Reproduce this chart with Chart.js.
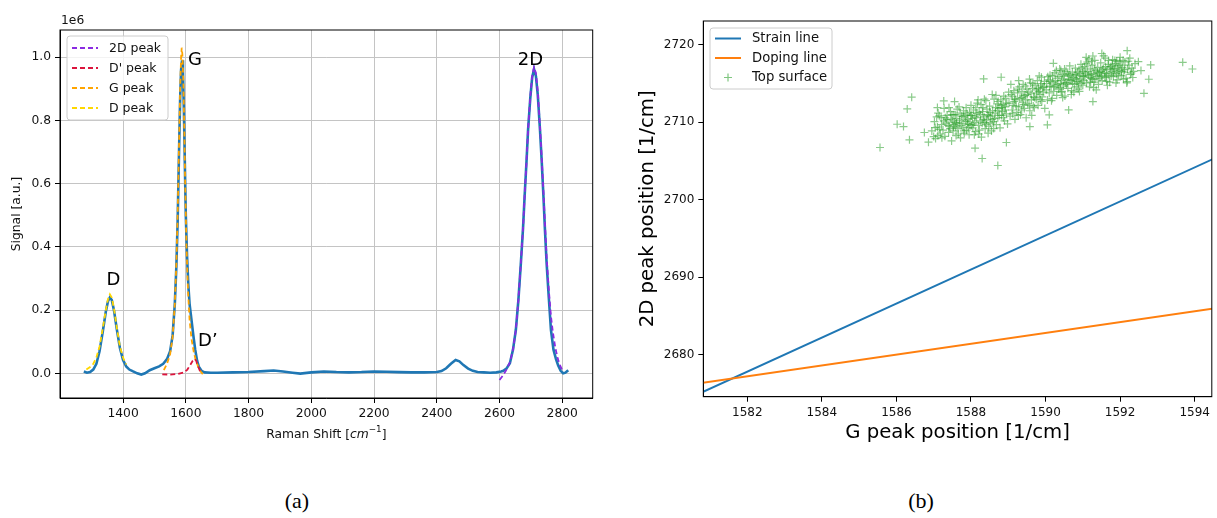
<!DOCTYPE html>
<html><head><meta charset="utf-8">
<script src="https://cdn.jsdelivr.net/npm/chart.js@4.4.1/dist/chart.umd.min.js"></script>
<style>
html,body{margin:0;padding:0;background:#fff;width:1217px;height:518px;overflow:hidden;position:relative}
canvas{position:absolute;top:0}
#ca{left:0}
#cb{left:610px}
.cap{position:absolute;top:488px;width:60px;text-align:center;font-family:"Liberation Serif",serif;font-size:22px;color:#000}
</style></head>
<body>
<canvas id="ca" width="600" height="460"></canvas>
<canvas id="cb" width="607" height="460"></canvas>
<div class="cap" style="left:267px">(a)</div>
<div class="cap" style="left:891px">(b)</div>
<script>
// ---------------- (a) Raman spectrum ----------------
const ramanX = [1275,1285,1295,1305,1315,1325,1335,1345,1352,1358,1364,1371,1380,1390,1400,1410,1420,1432,1445,1458,1470,1485,1500,1515,1528,1540,1550,1558,1565,1570,1574,1578,1582,1585,1588,1591,1594,1597,1600,1604,1608,1612,1618,1624,1630,1636,1642,1650,1660,1680,1700,1750,1800,1850,1880,1910,1940,1965,2000,2040,2080,2120,2160,2200,2240,2280,2320,2360,2400,2415,2430,2445,2460,2472,2485,2500,2515,2530,2550,2570,2590,2605,2612,2622,2633,2643,2652,2660,2668,2675,2680,2686,2691,2698,2704,2710,2716,2722,2729,2734,2740,2745,2750,2757,2764,2772,2780,2787,2795,2803,2810,2819];
const signal = [0.006,0.002,0.004,0.012,0.03,0.07,0.13,0.195,0.228,0.24,0.232,0.2,0.14,0.08,0.042,0.022,0.012,0.006,0.0,-0.004,0.0,0.01,0.016,0.022,0.03,0.045,0.07,0.12,0.22,0.34,0.48,0.68,0.87,0.96,0.99,0.95,0.83,0.66,0.5,0.37,0.28,0.22,0.17,0.12,0.075,0.04,0.02,0.008,0.003,0.002,0.002,0.003,0.004,0.007,0.009,0.006,0.002,-0.001,0.003,0.006,0.004,0.003,0.004,0.006,0.005,0.004,0.003,0.003,0.004,0.007,0.016,0.03,0.042,0.038,0.026,0.015,0.008,0.004,0.003,0.002,0.003,0.006,0.008,0.015,0.032,0.075,0.137,0.23,0.348,0.46,0.56,0.67,0.77,0.87,0.935,0.962,0.94,0.88,0.77,0.68,0.56,0.45,0.35,0.24,0.137,0.075,0.045,0.025,0.008,0.0,0.002,0.01];

const fit2DX = [2600,2610,2620,2633,2643,2652,2660,2668,2675,2680,2686,2691,2698,2704,2710,2716,2722,2729,2734,2740,2745,2750,2757,2764,2770,2778,2786,2793,2800];
const fit2DY = [-0.021,-0.008,0.008,0.035,0.075,0.137,0.23,0.35,0.46,0.56,0.67,0.77,0.875,0.94,0.968,0.95,0.89,0.78,0.69,0.575,0.47,0.37,0.265,0.18,0.13,0.08,0.045,0.025,0.01];
const fitDpX = [1525,1550,1575,1595,1605,1615,1622,1628,1633,1638,1645,1650];
const fitDpY = [-0.003,-0.004,-0.002,0.003,0.012,0.028,0.04,0.046,0.04,0.025,0.008,0.0];
const fitGX = [1530,1540,1550,1558,1565,1570,1574,1578,1582,1585,1587,1589,1592,1595,1598,1602,1607,1612,1618,1625,1632,1640,1648,1656];
const fitGY = [0.01,0.03,0.06,0.115,0.22,0.35,0.5,0.7,0.9,1.0,1.03,1.01,0.93,0.78,0.6,0.41,0.26,0.17,0.11,0.07,0.04,0.02,0.005,-0.005];
const fitDX = [1283,1295,1305,1315,1325,1335,1345,1352,1358,1364,1371,1380,1390,1400,1410];
const fitDY = [0.012,0.02,0.03,0.05,0.085,0.14,0.2,0.235,0.25,0.24,0.205,0.145,0.085,0.05,0.028];

const xTicksA = [1400,1600,1800,2000,2200,2400,2600,2800];
const yTicksA = [0.0,0.2,0.4,0.6,0.8,1.0];
const peakNames = ['D','G','D\u2019','2D'];
const peakLabelX = [1347,1607,1639,2658];
const peakLabelY = [0.279,0.976,0.087,0.976];

// ---------------- (b) correlation plot ----------------
const strainX = [1580,1596];
const strainY = [2673.38,2708.58];
const dopingX = [1580,1596];
const dopingY = [2675.78,2686.98];
const xTicksB = [1582,1584,1586,1588,1590,1592,1594];
const yTicksB = [2680,2690,2700,2710,2720];
const topSurface = [
[1585.56,2706.75],[1586.02,2709.76],[1586.19,2709.46],[1586.29,2711.74],[1586.41,2713.25],[1586.35,2707.74],[1586.75,2708.69],[1586.86,2707.44],[1587.04,2709.33],[1587.10,2711.91],[1587.15,2710.84],[1587.27,2712.77],[1587.56,2712.69],[1587.54,2710.97],[1587.00,2708.17],[1588.11,2706.67],[1588.30,2705.33],[1588.72,2704.43],[1588.95,2707.40],[1588.34,2715.61],[1588.81,2715.83],[1589.28,2715.40],[1589.89,2715.83],[1590.21,2717.63],[1591.09,2718.41],[1591.27,2718.58],[1592.19,2719.27],[1592.49,2717.85],[1592.82,2717.42],[1592.56,2716.69],[1592.77,2715.57],[1592.64,2713.76],[1593.68,2717.76],[1593.94,2716.90],[1592.19,2715.27],[1591.27,2712.69],[1590.62,2711.61],[1590.10,2710.97],[1590.05,2709.68],[1589.58,2709.46],
[1586.95,2708.9],[1587.02,2710.1],[1587.05,2707.9],[1587.10,2709.4],[1587.12,2711.2],[1587.18,2708.5],[1587.20,2710.6],[1587.25,2709.0],[1587.28,2711.8],[1587.30,2708.2],[1587.33,2709.9],[1587.36,2710.9],[1587.40,2708.7],[1587.42,2709.5],[1587.45,2711.4],[1587.48,2707.6],[1587.50,2710.2],[1587.52,2708.9],[1587.55,2709.7],[1587.58,2711.0],[1587.60,2708.3],[1587.62,2710.5],[1587.65,2709.2],[1587.68,2712.0],[1587.70,2709.9],[1587.72,2708.0],[1587.75,2710.8],[1587.78,2709.4],[1587.80,2711.5],[1587.82,2708.6],[1587.85,2710.1],[1587.88,2709.0],[1587.90,2711.1],[1587.92,2710.4],[1587.95,2708.4],[1587.97,2709.7],[1588.00,2712.2],[1588.02,2710.9],[1588.05,2709.3],[1588.07,2711.6],[1588.10,2710.0],[1588.12,2708.8],[1588.15,2710.6],[1588.17,2712.5],[1588.20,2709.6],[1588.22,2711.3],[1588.25,2710.2],[1588.28,2708.1],[1588.30,2709.9],[1588.32,2711.9],[1588.35,2710.7],[1588.38,2709.2],[1588.40,2712.8],[1588.42,2710.3],[1588.45,2711.0],[1588.48,2709.5],[1588.50,2712.1],[1588.52,2710.8],[1588.55,2708.9],[1588.58,2711.5],[1588.60,2710.1],[1588.62,2713.0],[1588.65,2711.2],[1588.68,2709.7],[1588.70,2712.4],[1588.72,2710.6],[1588.75,2711.8],[1588.78,2709.3],[1588.80,2712.9],[1588.82,2710.9],[1588.85,2711.4],[1588.88,2713.4],[1588.90,2710.2],[1588.92,2712.0],[1588.95,2711.1],[1588.98,2709.8],
[1587.08,2710.7],[1587.15,2709.1],[1587.22,2708.0],[1587.35,2710.4],[1587.44,2709.2],[1587.57,2710.0],[1587.63,2711.7],[1587.74,2709.6],[1587.84,2710.9],[1587.93,2709.3],[1588.04,2710.5],[1588.13,2711.9],[1588.23,2709.0],[1588.33,2710.4],[1588.43,2711.7],[1588.53,2709.9],[1588.63,2710.5],[1588.73,2712.7],[1588.83,2711.9],[1588.93,2713.1],[1587.66,2708.5],[1587.87,2711.9],[1588.09,2708.4],[1588.27,2712.3],[1588.46,2708.6],[1588.67,2713.5],[1588.87,2710.6],[1587.46,2710.4],[1587.96,2711.3],[1588.36,2713.0],
[1587.21,2709.7],[1587.31,2710.6],[1587.39,2709.6],[1587.49,2711.0],[1587.59,2709.4],[1587.69,2710.3],[1587.79,2710.7],[1587.89,2710.2],[1587.99,2710.9],[1588.06,2709.8],[1588.16,2711.2],[1588.26,2711.0],[1588.37,2710.0],[1588.47,2710.9],[1588.57,2710.4],[1588.66,2711.9],[1588.76,2710.9],[1588.86,2712.3],[1588.96,2712.5],[1587.27,2710.2],[1587.53,2709.4],[1587.71,2711.2],[1587.91,2709.8],[1588.11,2710.7],[1588.31,2711.4],[1588.51,2711.3],[1588.71,2711.5],[1588.91,2711.6],[1587.61,2709.9],[1588.01,2709.6],[1588.41,2709.7],[1588.81,2712.2],[1587.81,2708.9],[1588.21,2708.5],[1588.61,2709.2],[1587.41,2711.9],[1588.19,2712.9],[1588.57,2713.6],[1589.01,2713.9],[1587.11,2708.3],
[1589.02,2712.5],[1589.05,2710.8],[1589.08,2713.6],[1589.10,2711.6],[1589.13,2712.2],[1589.15,2714.1],[1589.18,2710.4],[1589.20,2712.9],[1589.23,2711.3],[1589.25,2713.8],[1589.28,2712.0],[1589.30,2714.6],[1589.33,2711.0],[1589.35,2713.2],[1589.38,2712.6],[1589.40,2714.9],[1589.43,2711.8],[1589.45,2713.5],[1589.48,2710.6],[1589.50,2714.3],[1589.52,2712.4],[1589.55,2713.9],[1589.58,2711.5],[1589.60,2715.1],[1589.62,2712.9],[1589.65,2714.4],[1589.68,2713.3],[1589.70,2711.9],[1589.72,2714.8],[1589.75,2713.0],[1589.78,2715.4],[1589.80,2712.2],[1589.82,2714.0],[1589.85,2713.6],[1589.88,2715.0],[1589.90,2712.7],[1589.92,2714.5],[1589.95,2713.9],[1589.98,2711.8],[1589.07,2714.9],[1589.17,2713.0],[1589.27,2710.9],[1589.37,2714.0],[1589.47,2712.9],[1589.57,2715.6],[1589.67,2712.1],[1589.77,2713.8],[1589.87,2714.7],[1589.97,2715.3],[1589.12,2711.1],[1589.42,2713.4],[1589.63,2710.9],[1589.83,2716.0],
[1589.11,2713.4],[1589.21,2712.1],[1589.31,2713.1],[1589.41,2712.3],[1589.51,2713.6],[1589.61,2713.7],[1589.71,2713.2],[1589.81,2714.4],[1589.91,2713.3],[1589.16,2712.7],[1589.36,2711.6],[1589.56,2712.2],[1589.76,2714.2],[1589.96,2714.6],[1589.26,2714.3],[1589.46,2714.7],[1589.66,2715.0],[1589.86,2712.9],
[1590.02,2714.2],[1590.05,2712.9],[1590.08,2715.5],[1590.10,2713.8],[1590.12,2716.1],[1590.15,2714.6],[1590.18,2713.1],[1590.20,2715.2],[1590.22,2714.0],[1590.25,2716.4],[1590.28,2714.8],[1590.30,2713.5],[1590.32,2715.7],[1590.35,2714.3],[1590.38,2716.9],[1590.40,2715.0],[1590.42,2713.9],[1590.45,2716.2],[1590.48,2714.7],[1590.50,2715.6],[1590.52,2713.4],[1590.55,2716.6],[1590.58,2715.1],[1590.60,2714.4],[1590.62,2716.0],[1590.65,2717.3],[1590.68,2715.4],[1590.70,2714.1],[1590.72,2716.5],[1590.75,2715.8],[1590.78,2714.9],[1590.80,2717.0],[1590.82,2716.2],[1590.85,2715.3],[1590.88,2714.3],[1590.90,2716.8],[1590.92,2715.6],[1590.95,2717.5],[1590.98,2716.0],[1591.00,2714.8],[1591.02,2715.9],[1591.05,2717.2],[1591.08,2716.4],[1591.10,2715.1],[1591.12,2717.8],[1591.15,2716.1],[1591.18,2714.6],[1591.20,2716.9],[1591.22,2715.7],[1591.25,2717.4],[1591.28,2716.3],[1591.30,2715.2],[1591.32,2718.0],[1591.35,2716.7],[1591.38,2715.9],[1591.40,2717.1],[1591.42,2714.9],[1591.45,2716.5],[1591.48,2717.7],[1591.50,2716.0],[1591.52,2715.4],[1591.55,2717.0],[1591.58,2716.4],[1591.60,2718.3],[1591.62,2715.8],[1591.65,2716.8],[1591.68,2717.5],[1591.70,2716.1],[1591.72,2715.2],[1591.75,2717.2],[1591.78,2716.6],[1591.80,2718.1],[1591.82,2715.9],[1591.85,2716.9],[1591.88,2717.6],[1591.90,2716.3],[1591.92,2715.5],[1591.95,2717.3],[1591.98,2716.7],[1592.00,2718.4],[1592.03,2716.0],[1592.06,2717.1],[1592.10,2716.5],[1592.13,2717.8],[1592.16,2715.7],[1592.20,2716.9],[1592.24,2717.4],[1592.28,2716.2],[1592.32,2717.0],[1592.36,2716.6],[1592.40,2717.6],
[1590.06,2715.9],[1590.16,2712.8],[1590.26,2715.4],[1590.36,2715.9],[1590.46,2713.2],[1590.56,2714.9],[1590.66,2716.2],[1590.76,2713.9],[1590.86,2716.5],[1590.96,2715.0],[1591.06,2716.0],[1591.16,2718.2],[1591.26,2715.6],[1591.36,2714.2],[1591.46,2715.7],[1591.56,2718.6],[1591.66,2714.8],[1591.76,2716.0],[1591.86,2718.0],[1591.96,2716.1],[1590.41,2716.7],[1590.71,2715.5],[1591.01,2716.6],[1591.31,2716.9],[1591.61,2717.2],[1591.91,2717.9],[1590.11,2714.7],[1590.51,2716.9],[1590.91,2714.0],[1591.21,2715.2],[1591.51,2718.9],[1591.81,2717.0],[1592.08,2718.0],[1592.18,2715.1],[1592.34,2715.8],
[1590.03,2715.0],[1590.13,2715.3],[1590.23,2714.6],[1590.33,2714.9],[1590.43,2715.4],[1590.53,2715.1],[1590.63,2715.6],[1590.73,2715.0],[1590.83,2715.7],[1590.93,2716.3],[1591.03,2715.4],[1591.13,2716.6],[1591.23,2716.2],[1591.33,2715.6],[1591.43,2716.1],[1591.53,2716.8],[1591.63,2716.3],[1591.73,2716.9],[1591.83,2716.4],[1591.93,2716.9],[1592.02,2717.4],[1592.12,2716.8],[1592.22,2717.9],[1592.30,2716.4],[1590.19,2716.0],[1590.39,2714.5],[1590.59,2716.3],[1590.79,2716.0],[1590.99,2717.0],[1591.19,2715.8],[1591.39,2716.4],[1591.59,2715.9],[1591.79,2717.4],[1591.99,2717.9],[1590.29,2716.7],[1590.49,2716.0],[1590.69,2713.6],[1590.89,2715.2],[1591.09,2717.6],[1591.29,2714.5],[1591.49,2716.6],[1591.69,2718.0],[1591.89,2715.1],[1592.09,2715.6],[1592.26,2718.3],[1590.44,2714.0],[1590.84,2714.6],[1591.24,2717.9],[1591.64,2715.3],[1592.04,2716.6]
];

// ---------------- helpers ----------------
const FONT = '"DejaVu Sans", sans-serif';
Chart.defaults.font.family = FONT;
Chart.defaults.color = '#111';
const pts = (xs, ys) => xs.map((x, i) => ({x: x, y: ys[i]}));

function drawLegend(ctx, box, items, fontPx) {
  ctx.save();
  ctx.beginPath();
  if (ctx.roundRect) ctx.roundRect(box.x, box.y, box.w, box.h, 3); else ctx.rect(box.x, box.y, box.w, box.h);
  ctx.fillStyle = 'rgba(255,255,255,0.8)';
  ctx.fill();
  ctx.strokeStyle = '#cccccc';
  ctx.lineWidth = 1;
  ctx.stroke();
  ctx.font = fontPx + 'px ' + FONT;
  ctx.textBaseline = 'middle';
  ctx.textAlign = 'left';
  items.forEach((it, i) => {
    const yy = box.row0 + i * box.rowH;
    ctx.strokeStyle = it.color;
    if (it.kind === 'plus') {
      const cx = (box.l0 + box.l1) / 2;
      ctx.lineWidth = 1.2;
      ctx.beginPath();
      ctx.moveTo(cx - 4, yy); ctx.lineTo(cx + 4, yy);
      ctx.moveTo(cx, yy - 4); ctx.lineTo(cx, yy + 4);
      ctx.stroke();
    } else {
      ctx.lineWidth = it.width;
      ctx.setLineDash(it.kind === 'dash' ? [5, 3] : []);
      ctx.beginPath();
      ctx.moveTo(box.l0, yy); ctx.lineTo(box.l1, yy);
      ctx.stroke();
      ctx.setLineDash([]);
    }
    ctx.fillStyle = '#111';
    ctx.fillText(it.label, box.tx, yy + 0.5);
  });
  ctx.restore();
}

function spines(ctx, a) {
  ctx.save();
  ctx.strokeStyle = '#000';
  ctx.lineWidth = 1;
  ctx.strokeRect(a.left, a.top, a.right - a.left, a.bottom - a.top);
  ctx.restore();
}

const fitColors = {'2D': '#8a2be2', 'Dp': '#dc143c', 'G': '#ffa500', 'D': '#ffd700'};

// ---------------- chart (a) ----------------
const decoA = {
  id: 'decoA',
  afterDraw(chart) {
    const ctx = chart.ctx, a = chart.chartArea, sx = chart.scales.x, sy = chart.scales.y;
    spines(ctx, a);
    ctx.save();
    ctx.fillStyle = '#000';
    ctx.font = '18px ' + FONT;
    ctx.textBaseline = 'alphabetic';
    ctx.textAlign = 'left';
    peakNames.forEach((t, i) => ctx.fillText(t, sx.getPixelForValue(peakLabelX[i]), sy.getPixelForValue(peakLabelY[i])));
    ctx.fillStyle = '#111';
    ctx.font = '12.3px ' + FONT;
    ctx.textBaseline = 'middle';
    ctx.fillText('1e6', 61, 21);
    ctx.save();
    ctx.translate(17, (a.top + a.bottom) / 2);
    ctx.rotate(-Math.PI / 2);
    ctx.textAlign = 'center';
    ctx.fillText('Signal [a.u.]', 0, 0);
    ctx.restore();
    const parts = [
      ['Raman Shift [', '12.3px ' + FONT, 0],
      ['cm', 'italic 12.3px ' + FONT, 0],
      ['\u22121', '8.8px ' + FONT, -5],
      [']', '12.3px ' + FONT, 0]
    ];
    let w = 0;
    parts.forEach(p => { ctx.font = p[1]; w += ctx.measureText(p[0]).width; });
    let xx = (a.left + a.right) / 2 - w / 2;
    ctx.textAlign = 'left';
    parts.forEach(p => { ctx.font = p[1]; ctx.fillText(p[0], xx, 435 + p[2]); xx += ctx.measureText(p[0]).width; });
    ctx.restore();
    drawLegend(ctx, {x: 67, y: 36, w: 101, h: 84, row0: 48, rowH: 20, l0: 72, l1: 98, tx: 109}, [
      {kind: 'dash', color: fitColors['2D'], width: 1.8, label: '2D peak'},
      {kind: 'dash', color: fitColors['Dp'], width: 1.8, label: "D' peak"},
      {kind: 'dash', color: fitColors['G'], width: 1.8, label: 'G peak'},
      {kind: 'dash', color: fitColors['D'], width: 1.8, label: 'D peak'}
    ], 12.5);
  }
};

const fitDs = (label, xs, ys, color) => ({
  label: label, data: pts(xs, ys), showLine: true, borderColor: color, borderWidth: 1.8,
  borderDash: [5, 3], pointRadius: 0, tension: 0, fill: false
});

new Chart(document.getElementById('ca'), {
  type: 'scatter',
  data: {
    datasets: [
      fitDs('2D peak', fit2DX, fit2DY, fitColors['2D']),
      fitDs("D' peak", fitDpX, fitDpY, fitColors['Dp']),
      fitDs('G peak', fitGX, fitGY, fitColors['G']),
      fitDs('D peak', fitDX, fitDY, fitColors['D']),
      {label: 'spectrum', data: pts(ramanX, signal), showLine: true, borderColor: '#1f77b4', borderWidth: 2.6,
       pointRadius: 0, tension: 0, fill: false}
    ]
  },
  options: {
    responsive: false, animation: false, devicePixelRatio: 1,
    layout: {padding: {left: 0, right: 7.3, top: 30, bottom: 0}},
    plugins: {legend: {display: false}, tooltip: {enabled: false}},
    scales: {
      x: {
        type: 'linear', min: 1199, max: 2897,
        afterBuildTicks: s => { s.ticks = xTicksA.map(v => ({value: v})); },
        afterFit: s => { s.height = 62; },
        grid: {color: '#c4c4c4', lineWidth: 1, tickColor: '#000', tickLength: 5},
        border: {color: '#000', width: 1},
        ticks: {font: {size: 12.3}, color: '#111', padding: 3, maxRotation: 0, callback: v => String(v)}
      },
      y: {
        type: 'linear', min: -0.078, max: 1.086,
        afterBuildTicks: s => { s.ticks = yTicksA.map(v => ({value: v})); },
        afterFit: s => { s.width = 60; },
        grid: {color: '#c4c4c4', lineWidth: 1, tickColor: '#000', tickLength: 5},
        border: {color: '#000', width: 1},
        ticks: {font: {size: 12.3}, color: '#111', padding: 4, callback: v => Number(v).toFixed(1)}
      }
    }
  },
  plugins: [decoA]
});

// ---------------- chart (b) ----------------
const decoB = {
  id: 'decoB',
  afterDraw(chart) {
    const ctx = chart.ctx, a = chart.chartArea;
    spines(ctx, a);
    ctx.save();
    ctx.fillStyle = '#000';
    ctx.font = '19.7px ' + FONT;
    ctx.textAlign = 'center';
    ctx.textBaseline = 'middle';
    ctx.fillText('G peak position [1/cm]', (a.left + a.right) / 2, 433);
    ctx.translate(38, (a.top + a.bottom) / 2);
    ctx.rotate(-Math.PI / 2);
    ctx.fillText('2D peak position [1/cm]', 0, 0);
    ctx.restore();
    drawLegend(ctx, {x: 100, y: 28, w: 122, h: 61, row0: 38.5, rowH: 19.5, l0: 105, l1: 131, tx: 142}, [
      {kind: 'line', color: '#1f77b4', width: 2, label: 'Strain line'},
      {kind: 'line', color: '#ff7f0e', width: 2, label: 'Doping line'},
      {kind: 'plus', color: 'rgba(44,160,44,0.6)', label: 'Top surface'}
    ], 13.2);
  }
};

new Chart(document.getElementById('cb'), {
  type: 'scatter',
  data: {
    datasets: [
      {label: 'Top surface', data: topSurface.map(p => ({x: p[0], y: p[1]})), pointStyle: 'cross', pointRadius: 4,
       borderColor: 'rgba(44,160,44,0.55)', backgroundColor: 'rgba(44,160,44,0.55)', borderWidth: 1.2, showLine: false},
      {label: 'Doping line', data: pts(dopingX, dopingY), showLine: true, borderColor: '#ff7f0e', borderWidth: 2, pointRadius: 0},
      {label: 'Strain line', data: pts(strainX, strainY), showLine: true, borderColor: '#1f77b4', borderWidth: 2, pointRadius: 0}
    ]
  },
  options: {
    responsive: false, animation: false, devicePixelRatio: 1,
    layout: {padding: {left: 0, right: 1.3, top: 21, bottom: 0}},
    plugins: {legend: {display: false}, tooltip: {enabled: false}},
    scales: {
      x: {
        type: 'linear', min: 1580.82, max: 1594.46,
        afterBuildTicks: s => { s.ticks = xTicksB.map(v => ({value: v})); },
        afterFit: s => { s.height = 63.3; },
        grid: {display: true, drawOnChartArea: false, tickColor: '#000', tickLength: 5},
        border: {color: '#000', width: 1},
        ticks: {font: {size: 12}, color: '#111', padding: 4, maxRotation: 0, callback: v => String(v)}
      },
      y: {
        type: 'linear', min: 2674.55, max: 2723.1,
        afterBuildTicks: s => { s.ticks = yTicksB.map(v => ({value: v})); },
        afterFit: s => { s.width = 93.3; },
        grid: {display: true, drawOnChartArea: false, tickColor: '#000', tickLength: 5},
        border: {color: '#000', width: 1},
        ticks: {font: {size: 12}, color: '#111', padding: 4, callback: v => String(v)}
      }
    }
  },
  plugins: [decoB]
});
</script>
</body></html>
